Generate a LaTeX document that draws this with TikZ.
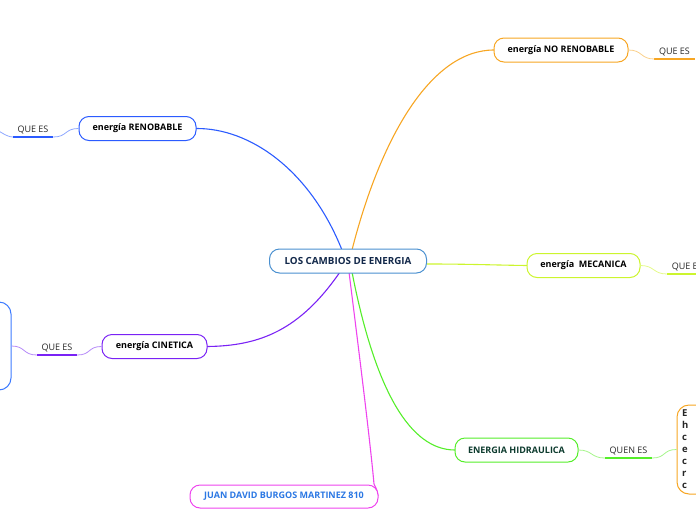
\documentclass[tikz,border=0pt]{standalone}
\usepackage{fontspec}
\setmainfont{Open Sans}
\definecolor{cblue}{HTML}{2B5BFF}
\definecolor{cblueL}{HTML}{8FA8FF}
\definecolor{corange}{HTML}{F7A623}
\definecolor{corangeL}{HTML}{FAD08A}
\definecolor{cyel}{HTML}{CCF52E}
\definecolor{cyelL}{HTML}{E4FA8A}
\definecolor{cpurp}{HTML}{7A22F5}
\definecolor{cpurpL}{HTML}{B58AF8}
\definecolor{cgreen}{HTML}{55EE2A}
\definecolor{cgreenL}{HTML}{A5F58A}
\definecolor{cmag}{HTML}{EE44EE}
\definecolor{ccent}{HTML}{4A90D0}
\definecolor{cnavy}{HTML}{12284A}
\definecolor{cdkgreen}{HTML}{0D3B2E}
\definecolor{cjuan}{HTML}{2B78E4}
\definecolor{clbox}{HTML}{3D7BFF}
\tikzset{
  topic/.style={draw, fill=white, rounded corners=10pt, line width=1pt, minimum height=24pt,
    inner xsep=2pt, font=\bfseries\fontsize{9}{10}\selectfont, text=black},
  quees/.style={inner xsep=0pt, inner ysep=3pt, minimum width=40pt, anchor=south,
    font=\fontsize{9}{10}\selectfont, text=black!85},
  uline/.style={line width=2pt},
  thin/.style={line width=0.8pt},
  branch/.style={line width=1.1pt},
}
\begin{document}
\begin{tikzpicture}[x=1pt,y=-1pt]
\useasboundingbox (0,0) rectangle (696,520);
\clip (0,0) rectangle (696,520);

% off-screen / partial boxes
\node[draw=clbox, line width=1pt, rounded corners=12pt, minimum width=40pt, minimum height=88pt, fill=white] (lbox) at (-9,346) {};
\node[draw=corange, line width=1pt, rounded corners=12pt, minimum width=60pt, minimum height=89pt, fill=white] (rbox) at (707,449.5) {};
\node[anchor=north west, inner sep=0pt, align=left, font=\bfseries\fontsize{9.5}{12}\selectfont, text=black!85] (rtext) at (682,410) {E\\h\\c\\e\\c\\r\\c};

% main topic
\coordinate (c0) at (348,261);

% branches from center
\draw[branch, cblue] (342,250) .. controls (310,170) and (250,128) .. (196,128.5);
\draw[branch, corange] (352,250) .. controls (380,140) and (430,50) .. (494,50);
\draw[branch, cyel] (427,264) .. controls (470,264) and (490,265) .. (527,265.5);
\draw[branch, cpurp] (340,272) .. controls (300,330) and (260,346) .. (207,346.5);
\draw[branch, cgreen] (352,272) .. controls (375,390) and (410,450) .. (455,450);
\draw[branch, cmag] (349,272) .. controls (360,360) and (370,440) .. (374,484) .. controls (377,490) .. (378,496);

\node[topic, draw=ccent, text=cnavy, minimum width=157pt, font=\bfseries\fontsize{9.8}{10}\selectfont] (center) at (c0) {LOS CAMBIOS DE ENERGIA};

\node[topic, draw=cblue, minimum width=117pt] (ren) at (137.5,128.5) {energía RENOBABLE};
\node[topic, draw=corange, minimum width=134pt] (nor) at (561,50) {energía NO RENOBABLE};
\node[topic, draw=cyel, minimum width=113pt] (mec) at (583.5,265.5) {energía\ \ MECANICA};
\node[topic, draw=cpurp, minimum width=105pt] (cin) at (154.5,346.5) {energía CINETICA};
\node[topic, draw=cgreen, text=cdkgreen, minimum width=123pt] (hid) at (516.5,450) {ENERGIA HIDRAULICA};
\node[topic, draw=cmag, text=cjuan, minimum width=188pt, minimum height=23pt] (juan) at (284,496.5) {JUAN DAVID BURGOS MARTINEZ 810};

% QUE ES labels
\node[quees] (q1) at (33,137) {QUE ES};
\node[quees] (q2) at (674.5,59) {QUE ES};
\node[quees, minimum width=40pt, anchor=south west, inner xsep=4pt] (q3) at (667,274) {QUE ES};
\node[quees] (q4) at (57,355) {QUE ES};
\node[quees, minimum width=47pt] (q5) at (628.5,458) {QUEN ES};

\draw[uline, cblue] (q1.south west) -- (q1.south east);
\draw[uline, corange] (q2.south west) -- (q2.south east);
\draw[uline, cyel] (q3.south west) -- ++(40,0);
\draw[uline, cpurp] (q4.south west) -- (q4.south east);
\draw[uline, cgreen] (q5.south west) -- (q5.south east);

\coordinate (off1) at (-12,127);
\draw[thin, cblueL] (ren.west) .. controls +(-14,0) and +(14,0) .. (q1.south east);
\draw[thin, cblueL] (q1.south west) .. controls +(-8,0) and +(8,0) .. (off1);
\draw[thin, corangeL] (nor.east) .. controls +(14,0) and +(-14,0) .. (q2.south west);
\draw[thin, cyelL] (mec.east) .. controls +(14,0) and +(-14,0) .. (q3.south west);
\draw[thin, cpurpL] (cin.west) .. controls +(-14,0) and +(14,0) .. (q4.south east);
\draw[thin, cpurpL] (q4.south west) .. controls +(-14,0) and +(14,0) .. (lbox.east);
\draw[thin, cgreenL] (hid.east) .. controls +(14,0) and +(-14,0) .. (q5.south west);
\draw[thin, cgreenL] (q5.south east) .. controls +(14,0) and +(-14,0) .. (rbox.west);
\end{tikzpicture}
\end{document}
